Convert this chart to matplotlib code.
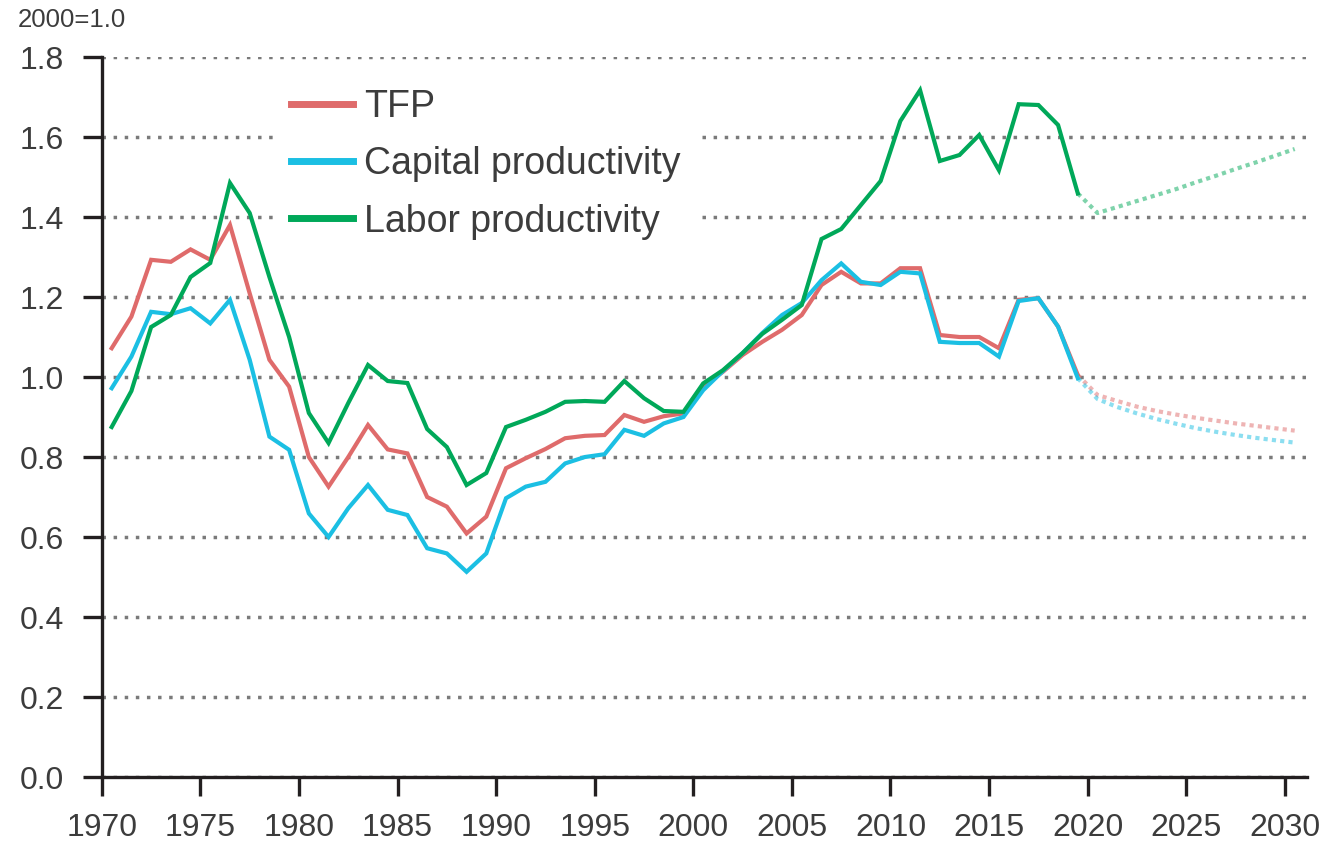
import matplotlib
matplotlib.use("Agg")
import matplotlib.pyplot as plt
import numpy as np

plt.rcParams['font.family'] = ['Liberation Sans', 'DejaVu Sans']

# Data (2000 = 1.0)
years = np.arange(1970, 2020)
tfp = [1.072, 1.151, 1.293, 1.288, 1.319, 1.293, 1.38, 1.209, 1.043, 0.976,
       0.80, 0.726, 0.80, 0.88, 0.819, 0.809, 0.70, 0.676, 0.609, 0.651,
       0.772, 0.797, 0.82, 0.847, 0.853, 0.855, 0.905, 0.888, 0.902, 0.909,
       0.976, 1.013, 1.055, 1.088, 1.118, 1.155, 1.23, 1.263, 1.234, 1.234,
       1.272, 1.272, 1.105, 1.10, 1.10, 1.072, 1.193, 1.197, 1.126, 1.005]
capital = [0.972, 1.051, 1.163, 1.157, 1.172, 1.134, 1.193, 1.043, 0.851, 0.818,
           0.659, 0.60, 0.672, 0.73, 0.668, 0.655, 0.572, 0.559, 0.513, 0.559,
           0.697, 0.726, 0.738, 0.784, 0.80, 0.807, 0.868, 0.853, 0.884, 0.90,
           0.967, 1.015, 1.06, 1.11, 1.155, 1.185, 1.242, 1.284, 1.238, 1.23,
           1.263, 1.259, 1.088, 1.085, 1.085, 1.051, 1.19, 1.197, 1.126, 0.997]
labor = [0.875, 0.965, 1.125, 1.155, 1.25, 1.285, 1.485, 1.41, 1.25, 1.10,
         0.91, 0.835, 0.935, 1.03, 0.99, 0.985, 0.87, 0.825, 0.73, 0.76,
         0.875, 0.893, 0.913, 0.938, 0.94, 0.938, 0.99, 0.947, 0.915, 0.913,
         0.984, 1.017, 1.06, 1.108, 1.143, 1.18, 1.345, 1.37, 1.43, 1.49,
         1.64, 1.717, 1.54, 1.555, 1.605, 1.517, 1.682, 1.68, 1.63, 1.459]

# projections
proj_years = np.arange(2020, 2031)
tfp_proj = [0.955, 0.94, 0.926, 0.915, 0.906, 0.898, 0.891, 0.884, 0.878, 0.872, 0.866]
capital_proj = [0.945, 0.925, 0.909, 0.895, 0.883, 0.872, 0.863, 0.855, 0.848, 0.842, 0.836]
labor_proj = [1.41, 1.425, 1.44, 1.455, 1.47, 1.487, 1.503, 1.52, 1.536, 1.553, 1.57]

series = [('TFP', tfp, tfp_proj, '#df6b6b'),
          ('Capital productivity', capital, capital_proj, '#1bbfe3'),
          ('Labor productivity', labor, labor_proj, '#00a859')]

txt = '#3c3c3c'

fig = plt.figure(figsize=(13.24, 8.47), dpi=100)
ax = fig.add_axes([0.0769, 0.0826, 0.9099, 0.8501])

# values are plotted at mid-year
x = years + 0.5
xp = np.concatenate([[years[-1]], proj_years]) + 0.5

for i, (name, vals, proj, col) in enumerate(series):
    ax.plot(x, vals, color=col, lw=3.0, label=name, zorder=3 + i,
            solid_joinstyle='miter')
    ax.plot(xp, [vals[-1]] + proj, color=col, lw=3.0, alpha=0.5,
            ls=(0, (1.0, 1.0)), zorder=3 + i)

ax.set_xlim(1970, 2031.1)
ax.set_ylim(0, 1.8)
ax.set_xticks(np.arange(1970, 2031, 5))
ax.set_yticks(np.arange(0, 1.81, 0.2))
ax.set_yticklabels(['%.1f' % v for v in np.arange(0, 1.81, 0.2)])

ax.yaxis.grid(True, color='#7a7a7a', lw=2.5, ls=(0, (1, 2.2)))
ax.set_axisbelow(True)

for s in ['top', 'right']:
    ax.spines[s].set_visible(False)
for s in ['left', 'bottom']:
    ax.spines[s].set_linewidth(2.4)
    ax.spines[s].set_color('#231f20')

ax.tick_params(axis='both', direction='out', length=14, width=2.4,
               color='#231f20', labelcolor=txt, labelsize=23)
ax.tick_params(axis='y', pad=13)
ax.tick_params(axis='x', pad=12)

fig.text(0.0136, 0.976, '2000=1.0', fontsize=18.5, color=txt, va='center',
         family=['Liberation Sans Narrow', 'Liberation Sans'])

leg = ax.legend(loc='upper left', bbox_to_anchor=(274 / 1324, 1 - 72 / 847),
                bbox_transform=fig.transFigure, fontsize=27, frameon=True,
                facecolor='white', edgecolor='none', framealpha=1,
                handlelength=1.65, handletextpad=0.3, labelspacing=0.57,
                borderpad=0.45, borderaxespad=0, fancybox=False)
for line in leg.get_lines():
    line.set_linewidth(5)
for t in leg.get_texts():
    t.set_color(txt)

fig.savefig('out.png', dpi=100)
